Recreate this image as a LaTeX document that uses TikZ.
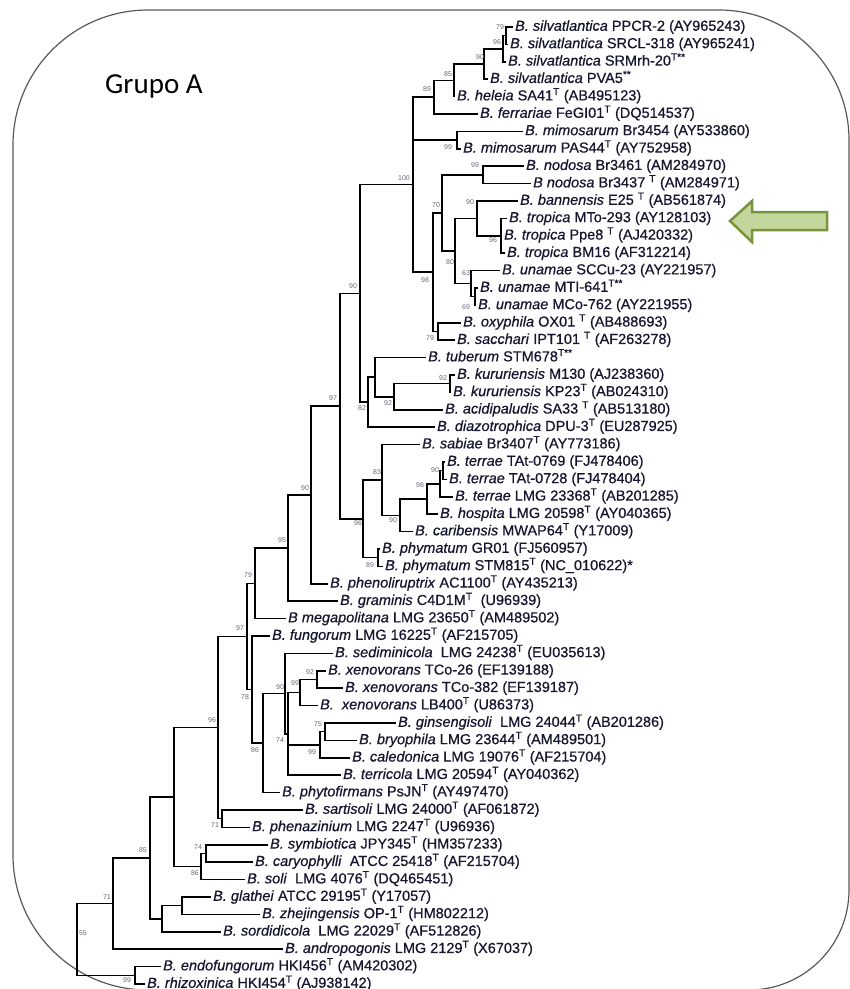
\documentclass[tikz,border=0pt]{standalone}
\usepackage{fontspec}
\setmainfont{Liberation Sans}
\newfontfamily\grpfont{Carlito}
\newfontfamily\leaffont{Liberation Sans}[FakeBold=0.6]
\usetikzlibrary{calc}
\definecolor{txt}{RGB}{22,22,48}
\definecolor{bsc}{RGB}{100,105,120}
\definecolor{arrfill}{RGB}{195,214,155}
\definecolor{arrline}{RGB}{119,147,60}
\newcommand\bsp[1]{\textit{B. #1}}
\newcommand\tsup[1]{\textsuperscript{#1}}
\newcommand\inode[4]{\path let \p1=(#3), \p2=(#4) in coordinate (#1) at (#2pt,{(\y1+\y2)/2});}
\newcommand\edges[2]{\foreach \ch in {#2}{\draw[br] (#1) |- (\ch);}}
\begin{document}
\begin{tikzpicture}[x=1pt,y=-1pt,
  leaf/.style={anchor=west, inner sep=0pt, inner xsep=2pt, text height=10.5pt, text depth=3pt, font=\leaffont\fontsize{14.5}{16}\selectfont, text=txt},
  br/.style={line width=1.5pt, black},
  bsl/.style={inner sep=0pt, font=\fontsize{7}{8}\selectfont, text=bsc},
  frame/.style={line width=1.2pt, black!65}]
\useasboundingbox (0,0) rectangle (850,989);
% frame
\draw[frame] (13,855) -- (13,145) .. controls (13,70.4) and (73.4,10) .. (148,10) -- (719,10)
  .. controls (790.8,10) and (849,68.2) .. (849,140) -- (849,890)
  .. controls (849,945.2) and (804.2,990) .. (749,990) -- (148,990)
  .. controls (73.4,990) and (13,929.6) .. (13,855);
\node[anchor=base west, inner sep=0pt, font=\grpfont\fontsize{29}{32}\selectfont] (grupo) at (105,93) {Grupo A};
% leaves
\node[leaf] (L0) at (513,{27+17.4*0}) {\bsp{silvatlantica} PPCR-2 (AY965243)};
\node[leaf] (L1) at (508,{27+17.4*1}) {\bsp{silvatlantica} SRCL-318 (AY965241)};
\node[leaf] (L2) at (506,{27+17.4*2}) {\bsp{silvatlantica} SRMrh-20\tsup{T**}};
\node[leaf] (L3) at (488,{27+17.4*3}) {\bsp{silvatlantica} PVA5\tsup{**}};
\node[leaf] (L4) at (455,{27+17.4*4}) {\bsp{heleia} SA41\tsup{T} (AB495123)};
\node[leaf] (L5) at (478,{27+17.4*5}) {\bsp{ferrariae} FeGI01\tsup{T} (DQ514537)};
\node[leaf] (L6) at (523,{27+17.4*6}) {\bsp{mimosarum} Br3454 (AY533860)};
\node[leaf] (L7) at (461,{27+17.4*7}) {\bsp{mimosarum} PAS44\tsup{T} (AY752958)};
\node[leaf] (L8) at (524,{27+17.4*8}) {\bsp{nodosa} Br3461 (AM284970)};
\node[leaf] (L9) at (531,{27+17.4*9}) {\textit{B nodosa} Br3437 \tsup{T} (AM284971)};
\node[leaf] (L10) at (518,{27+17.4*10}) {\bsp{bannensis} E25 \tsup{T} (AB561874)};
\node[leaf] (L11) at (507,{27+17.4*11}) {\bsp{tropica} MTo-293 (AY128103)};
\node[leaf] (L12) at (502,{27+17.4*12}) {\bsp{tropica} Ppe8 \tsup{T} (AJ420332)};
\node[leaf] (L13) at (505,{27+17.4*13}) {\bsp{tropica} BM16 (AF312214)};
\node[leaf] (L14) at (500,{27+17.4*14}) {\bsp{unamae} SCCu-23 (AY221957)};
\node[leaf] (L15) at (478,{27+17.4*15}) {\bsp{unamae} MTI-641\tsup{T**}};
\node[leaf] (L16) at (476,{27+17.4*16}) {\bsp{unamae} MCo-762 (AY221955)};
\node[leaf] (L17) at (461,{27+17.4*17}) {\bsp{oxyphila} OX01 \tsup{T} (AB488693)};
\node[leaf] (L18) at (455,{27+17.4*18}) {\bsp{sacchari} IPT101 \tsup{T} (AF263278)};
\node[leaf] (L19) at (426,{27+17.4*19}) {\bsp{tuberum} STM678\tsup{T**}};
\node[leaf] (L20) at (455,{27+17.4*20}) {\bsp{kururiensis} M130 (AJ238360)};
\node[leaf] (L21) at (451,{27+17.4*21}) {\bsp{kururiensis} KP23\tsup{T} (AB024310)};
\node[leaf] (L22) at (443,{27+17.4*22}) {\bsp{acidipaludis} SA33 \tsup{T} (AB513180)};
\node[leaf] (L23) at (435,{27+17.4*23}) {\bsp{diazotrophica} DPU-3\tsup{T} (EU287925)};
\node[leaf] (L24) at (420,{27+17.4*24}) {\bsp{sabiae} Br3407\tsup{T} (AY773186)};
\node[leaf] (L25) at (445,{27+17.4*25}) {\bsp{terrae} TAt-0769 (FJ478406)};
\node[leaf] (L26) at (447,{27+17.4*26}) {\bsp{terrae} TAt-0728 (FJ478404)};
\node[leaf] (L27) at (453,{27+17.4*27}) {\bsp{terrae} LMG 23368\tsup{T} (AB201285)};
\node[leaf] (L28) at (438,{27+17.4*28}) {\bsp{hospita} LMG 20598\tsup{T} (AY040365)};
\node[leaf] (L29) at (413,{27+17.4*29}) {\bsp{caribensis} MWAP64\tsup{T} (Y17009)};
\node[leaf] (L30) at (380,{27+17.4*30}) {\bsp{phymatum} GR01 (FJ560957)};
\node[leaf] (L31) at (383,{27+17.4*31}) {\bsp{phymatum} STM815\tsup{T} (NC\_010622)*};
\node[leaf] (L32) at (328,{27+17.4*32}) {\bsp{phenoliruptrix} AC1100\tsup{T} (AY435213)};
\node[leaf] (L33) at (338,{27+17.4*33}) {\bsp{graminis} C4D1M\tsup{T}\ \ (U96939)};
\node[leaf] (L34) at (286,{27+17.4*34}) {\textit{B megapolitana} LMG 23650\tsup{T} (AM489502)};
\node[leaf] (L35) at (270,{27+17.4*35}) {\bsp{fungorum} LMG 16225\tsup{T} (AF215705)};
\node[leaf] (L36) at (333,{27+17.4*36}) {\bsp{sediminicola}\ \ LMG 24238\tsup{T} (EU035613)};
\node[leaf] (L37) at (326,{27+17.4*37}) {\bsp{xenovorans} TCo-26 (EF139188)};
\node[leaf] (L38) at (343,{27+17.4*38}) {\bsp{xenovorans} TCo-382 (EF139187)};
\node[leaf] (L39) at (318,{27+17.4*39}) {\textit{B.\ \ xenovorans} LB400\tsup{T} (U86373)};
\node[leaf] (L40) at (396,{27+17.4*40}) {\bsp{ginsengisoli}\ \ LMG 24044\tsup{T} (AB201286)};
\node[leaf] (L41) at (357,{27+17.4*41}) {\bsp{bryophila} LMG 23644\tsup{T} (AM489501)};
\node[leaf] (L42) at (350,{27+17.4*42}) {\bsp{caledonica} LMG 19076\tsup{T} (AF215704)};
\node[leaf] (L43) at (341,{27+17.4*43}) {\bsp{terricola} LMG 20594\tsup{T} (AY040362)};
\node[leaf] (L44) at (280,{27+17.4*44}) {\bsp{phytofirmans} PsJN\tsup{T} (AY497470)};
\node[leaf] (L45) at (303,{27+17.4*45}) {\bsp{sartisoli} LMG 24000\tsup{T} (AF061872)};
\node[leaf] (L46) at (250,{27+17.4*46}) {\bsp{phenazinium} LMG 2247\tsup{T} (U96936)};
\node[leaf] (L47) at (268,{27+17.4*47}) {\bsp{symbiotica} JPY345\tsup{T} (HM357233)};
\node[leaf] (L48) at (253,{27+17.4*48}) {\bsp{caryophylli}\ \ ATCC 25418\tsup{T} (AF215704)};
\node[leaf] (L49) at (245,{27+17.4*49}) {\bsp{soli}\ \ LMG 4076\tsup{T} (DQ465451)};
\node[leaf] (L50) at (211,{27+17.4*50}) {\bsp{glathei} ATCC 29195\tsup{T} (Y17057)};
\node[leaf] (L51) at (260,{27+17.4*51}) {\bsp{zhejingensis} OP-1\tsup{T} (HM802212)};
\node[leaf] (L52) at (221,{27+17.4*52}) {\bsp{sordidicola}\ \ LMG 22029\tsup{T} (AF512826)};
\node[leaf] (L53) at (283,{27+17.4*53}) {\bsp{andropogonis} LMG 2129\tsup{T} (X67037)};
\node[leaf] (L54) at (161,{27+17.4*54}) {\bsp{endofungorum} HKI456\tsup{T} (AM420302)};
\node[leaf] (L55) at (145,{27+17.4*55}) {\bsp{rhizoxinica} HKI454\tsup{T} (AJ938142)};
% internal nodes
\inode{s1}{506}{L0.west}{L1.west}
\inode{s2}{503}{s1}{L2.west}
\inode{s3}{484}{s2}{L3.west}
\inode{s4}{454}{s3}{L4.west}
\inode{s5}{434}{s4}{L5.west}
\inode{mim}{457}{L6.west}{L7.west}
\inode{nod}{483}{L8.west}{L9.west}
\inode{trp}{501}{L11.west}{L13.west}
\inode{n90b}{477}{L10.west}{trp}
\inode{u1}{475}{L15.west}{L16.west}
\inode{u2}{471}{L14.west}{u1}
\inode{n80}{455}{n90b}{u2}
\inode{n70}{442}{nod}{n80}
\inode{oxs}{438}{L17.west}{L18.west}
\inode{n98}{433}{n70}{oxs}
\inode{s6}{413}{s5}{n98}
\inode{kur}{450}{L20.west}{L21.west}
\inode{kac}{394}{kur}{L22.west}
\inode{tub}{375}{L19.west}{kac}
\inode{dia}{368}{tub}{L23.west}
\inode{n90c}{360}{s6}{dia}
\inode{t1}{443}{L25.west}{L26.west}
\inode{t2}{440}{t1}{L27.west}
\inode{t3}{427}{t2}{L28.west}
\inode{t4}{400}{t3}{L29.west}
\inode{t5}{382}{L24.west}{t4}
\inode{ph}{378}{L30.west}{L31.west}
\inode{t6}{363}{t5}{ph}
\inode{n97}{340}{n90c}{t6}
\inode{n90d}{311}{n97}{L32.west}
\inode{n95}{288}{n90d}{L33.west}
\inode{n79}{255}{n95}{L34.west}
\inode{x1}{317}{L37.west}{L38.west}
\inode{x2}{300}{x1}{L39.west}
\inode{g1}{325}{L40.west}{L41.west}
\inode{g2}{320}{g1}{L42.west}
\inode{n74}{288}{x2}{L43.west}
\inode{n90e}{285}{L36.west}{n74}
\inode{n86}{263}{n90e}{L44.west}
\inode{n78}{252}{L35.west}{n86}
\inode{n97b}{247}{n79}{n78}
\inode{sart}{222}{L45.west}{L46.west}
\inode{n96}{218}{n97b}{sart}
\inode{sy1}{206}{L47.west}{L48.west}
\inode{sy2}{201}{sy1}{L49.west}
\inode{nx}{174}{n96}{sy2}
\inode{glz}{182}{L50.west}{L51.west}
\inode{gls}{162}{glz}{L52.west}
\inode{n85}{150}{nx}{gls}
\inode{n71}{113}{n85}{L53.west}
\inode{endo}{135}{L54.west}{L55.west}
\inode{root}{77}{n71}{endo}
% branches
\edges{s1}{L0.west,L1.west}
\edges{s2}{s1,L2.west}
\edges{s3}{s2,L3.west}
\edges{s4}{s3,L4.west}
\edges{s5}{s4,L5.west}
\edges{mim}{L6.west,L7.west}
\edges{nod}{L8.west,L9.west}
\edges{trp}{L11.west,L12.west,L13.west}
\edges{n90b}{L10.west,trp}
\edges{u1}{L15.west,L16.west}
\edges{u2}{L14.west,u1}
\edges{n80}{n90b,u2}
\edges{n70}{nod,n80}
\edges{oxs}{L17.west,L18.west}
\edges{n98}{n70,oxs}
\edges{s6}{s5,mim,n98}
\edges{kur}{L20.west,L21.west}
\edges{kac}{kur,L22.west}
\edges{tub}{L19.west,kac}
\edges{dia}{tub,L23.west}
\edges{n90c}{s6,dia}
\edges{t1}{L25.west,L26.west}
\edges{t2}{t1,L27.west}
\edges{t3}{t2,L28.west}
\edges{t4}{t3,L29.west}
\edges{t5}{L24.west,t4}
\edges{ph}{L30.west,L31.west}
\edges{t6}{t5,ph}
\edges{n97}{n90c,t6}
\edges{n90d}{n97,L32.west}
\edges{n95}{n90d,L33.west}
\edges{n79}{n95,L34.west}
\edges{x1}{L37.west,L38.west}
\edges{x2}{x1,L39.west}
\edges{g1}{L40.west,L41.west}
\edges{g2}{g1,L42.west}
\edges{n74}{x2,g2,L43.west}
\edges{n90e}{L36.west,n74}
\edges{n86}{n90e,L44.west}
\edges{n78}{L35.west,n86}
\edges{n97b}{n79,n78}
\edges{sart}{L45.west,L46.west}
\edges{n96}{n97b,sart}
\edges{sy1}{L47.west,L48.west}
\edges{sy2}{sy1,L49.west}
\edges{nx}{n96,sy2}
\edges{glz}{L50.west,L51.west}
\edges{gls}{glz,L52.west}
\edges{n85}{nx,gls}
\edges{n71}{n85,L53.west}
\edges{endo}{L54.west,L55.west}
\edges{root}{n71,endo}
% bootstrap values
\node[bsl] (b1) at (500,27) {79};
\node[bsl] (b2) at (497,42) {96};
\node[bsl] (b3) at (480,57) {90};
\node[bsl] (b4) at (448,74) {85};
\node[bsl] (b5) at (427,89) {89};
\node[bsl] (b6) at (448,147) {99};
\node[bsl] (b7) at (475,165) {99};
\node[bsl] (b8) at (404,178) {100};
\node[bsl] (b9) at (436,205) {70};
\node[bsl] (b10) at (470,202) {90};
\node[bsl] (b11) at (493,240) {96};
\node[bsl] (b12) at (450,262) {80};
\node[bsl] (b13) at (466,273) {63};
\node[bsl] (b14) at (466,307) {69};
\node[bsl] (b15) at (425,280) {98};
\node[bsl] (b16) at (430,338) {79};
\node[bsl] (b17) at (353,286) {90};
\node[bsl] (b18) at (443,378) {92};
\node[bsl] (b19) at (388,403) {92};
\node[bsl] (b20) at (362,408) {82};
\node[bsl] (b21) at (333,398) {97};
\node[bsl] (b22) at (377,472) {83};
\node[bsl] (b23) at (435,470) {90};
\node[bsl] (b24) at (420,485) {98};
\node[bsl] (b25) at (393,520) {90};
\node[bsl] (b26) at (358,523) {96};
\node[bsl] (b27) at (370,565) {89};
\node[bsl] (b28) at (305,488) {90};
\node[bsl] (b29) at (282,540) {95};
\node[bsl] (b30) at (248,575) {79};
\node[bsl] (b31) at (240,628) {97};
\node[bsl] (b32) at (245,697) {78};
\node[bsl] (b33) at (255,750) {86};
\node[bsl] (b34) at (280,687) {90};
\node[bsl] (b35) at (295,683) {99};
\node[bsl] (b36) at (310,672) {92};
\node[bsl] (b37) at (280,740) {74};
\node[bsl] (b38) at (318,724) {75};
\node[bsl] (b39) at (312,752) {99};
\node[bsl] (b40) at (212,720) {96};
\node[bsl] (b41) at (215,825) {71};
\node[bsl] (b42) at (198,847) {74};
\node[bsl] (b43) at (195,873) {86};
\node[bsl] (b44) at (143,850) {85};
\node[bsl] (b45) at (107,897) {71};
\node[bsl] (b46) at (83,933) {55};
\node[bsl] (b47) at (127,980) {99};
% arrow
\draw[fill=arrfill, draw=arrline, line width=2.5pt, line join=miter]
  (730,221) -- (752,201) -- (752,212) -- (827,212) -- (827,230) -- (752,230) -- (752,242) -- cycle;
\end{tikzpicture}
\end{document}
